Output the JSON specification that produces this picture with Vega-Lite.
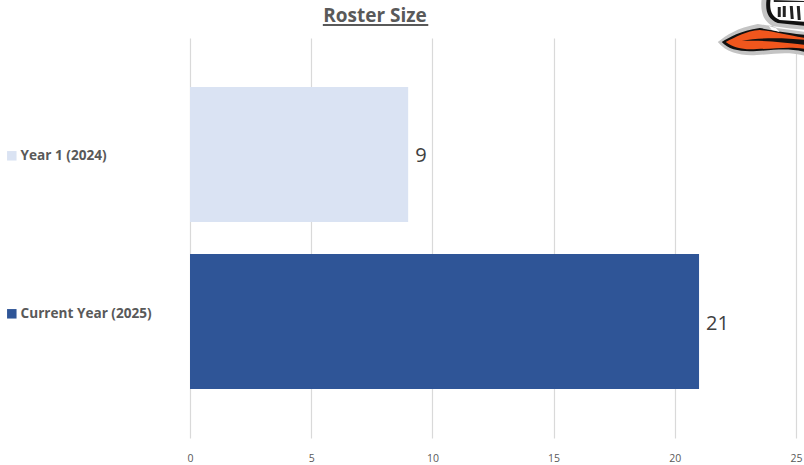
{
"$schema":"https://vega.github.io/schema/vega-lite/v6.json",
"width":606,"height":400,
"autosize":{"type":"none"},
"padding":{"left":190,"top":38,"right":8,"bottom":27},
"background":"white",
"config":{"view":{"stroke":null},"font":"Noto Sans"},
"title":{"text":"Roster Size","fontSize":19,"fontWeight":"bold","color":"#595959","font":"Open Sans","anchor":"middle","dx":-118,"offset":-28},
"data":{"values":[{"series":"Year 1 (2024)","value":9},{"series":"Current Year (2025)","value":21}]},
"layer":[
{"mark":{"type":"bar"},
"encoding":{
"y":{"field":"series","type":"nominal","sort":null,"axis":null,"scale":{"paddingInner":0.192,"paddingOuter":0.293}},
"x":{"field":"value","type":"quantitative","scale":{"domain":[0,25],"nice":false},
"axis":{"values":[0,5,10,15,20,25],"title":null,"domain":false,"ticks":false,"grid":true,"gridColor":"#d9d9d9","gridWidth":1.2,"labelColor":"#595959","labelFontSize":10.5,"labelPadding":15,"labelFont":"Open Sans","labelFlush":false}},
"color":{"field":"series","type":"nominal","sort":null,"scale":{"domain":["Year 1 (2024)","Current Year (2025)"],"range":["#dae3f3","#2f5597"]},
"legend":{"orient":"none","legendX":-185,"legendY":111,"title":null,"symbolType":"square","symbolSize":90,"symbolStrokeWidth":0,"labelColor":"#595959","labelFont":"Open Sans","labelFontSize":13.6,"labelFontWeight":"bold","rowPadding":143,"labelOffset":2}}
}},
{"mark":{"type":"text","align":"left","dx":7,"dy":2,"fontSize":20,"color":"#404040","font":"Open Sans"},
"encoding":{"y":{"field":"series","type":"nominal","sort":null},"x":{"field":"value","type":"quantitative"},"text":{"field":"value","type":"quantitative"}}},
{"data":{"values":[{"a":5.48,"b":9.83}]},"mark":{"type":"rule","color":"#595959","strokeWidth":2,"clip":false},
"encoding":{"x":{"field":"a","type":"quantitative"},"x2":{"field":"b"},"y":{"value":-13}}},
{"data":{"values":[{"a":24}]},"mark":{"type":"point","filled":true,"opacity":1,"size":4,"fill":"#c4c4c4","stroke":null,"shape":"M-54,4 C-45,-3 -35,-10 -14,-14 C0,-12 10,-10 34,-8 L34,18 C15,13 5,16 -15,17 C-30,18 -45,15 -54,4Z M-10,-40 C-12,-25 -8,-15 5,-10 L34,-6 L34,-40Z"},
"encoding":{"x":{"field":"a","type":"quantitative"},"y":{"value":0}}},
{"data":{"values":[{"a":24}]},"mark":{"type":"point","filled":true,"opacity":1,"size":4,"fill":"#111111","stroke":null,"shape":"M-50,4 C-42,-1 -32,-7 -12,-10 C0,-8 10,-6 34,-3 L34,14 C15,10 5,12 -15,13 C-30,14 -43,12 -50,4Z M-5,-40 C-7,-27 -4,-19 6,-15 L34,-12 L34,-40Z"},
"encoding":{"x":{"field":"a","type":"quantitative"},"y":{"value":0}}},
{"data":{"values":[{"a":24}]},"mark":{"type":"point","filled":true,"opacity":1,"size":4,"fill":"#f0561d","stroke":null,"shape":"M-46,4 C-36,-1 -26,-7 -12,-8 C2,-7 15,-3 34,0 L34,2 C15,0 -10,-1 -30,3 C-10,2 10,4 34,7 L34,11 C15,8 5,11 -15,11 C-28,12 -38,10 -46,4Z"},
"encoding":{"x":{"field":"a","type":"quantitative"},"y":{"value":0}}},
{"data":{"values":[{"a":24}]},"mark":{"type":"point","filled":true,"opacity":1,"size":4,"fill":"#ffffff","stroke":null,"shape":"M-1,-40 C-3,-28 0,-21 8,-18 L34,-16 L34,-40Z M-3,-12 L4,-10 L8,-6 L0,-8Z"},
"encoding":{"x":{"field":"a","type":"quantitative"},"y":{"value":0}}},
{"data":{"values":[{"a":24}]},"mark":{"type":"point","filled":true,"opacity":1,"size":4,"fill":"#222222","stroke":null,"shape":"M6,-31 L9,-31 L9,-21 L6,-21Z M11,-32 L14,-32 L14,-21 L11,-21Z M18,-32 L21,-32 L22,-19 L19,-19Z M25,-32 L28,-32 L29,-18 L26,-18Z M2,-38 L34,-37 L34,-36 L2,-36Z"},
"encoding":{"x":{"field":"a","type":"quantitative"},"y":{"value":0}}}
]
}
